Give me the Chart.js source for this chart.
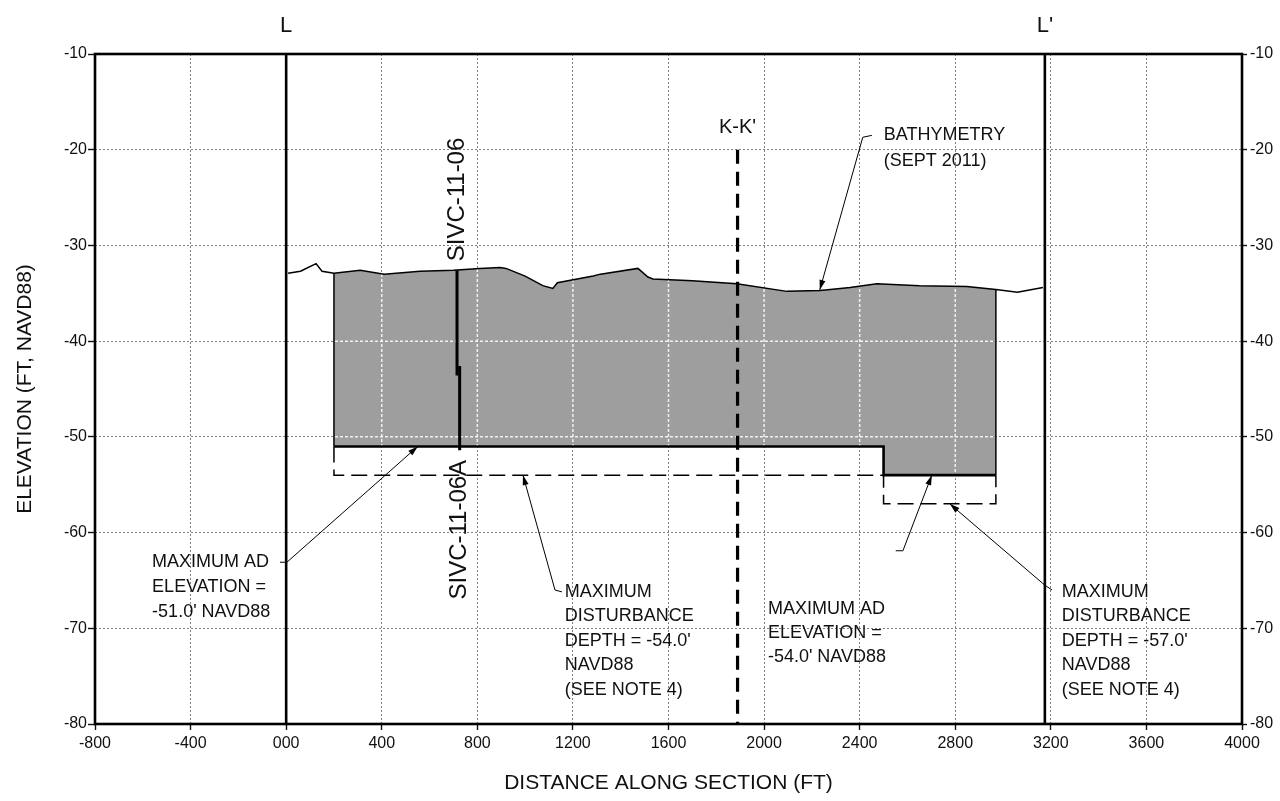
<!DOCTYPE html>
<html><head><meta charset="utf-8">
<script src="https://cdn.jsdelivr.net/npm/chart.js@4.4.1/dist/chart.umd.min.js"></script>
<style>html,body{margin:0;padding:0;background:#fff}canvas{display:block}</style>
</head><body>
<canvas id="c" width="1280" height="801"></canvas>
<script>
// ---------- data ----------
const xTickValues = [-800,-400,0,400,800,1200,1600,2000,2400,2800,3200,3600,4000];
const xTickLabels = ['-800','-400','000','400','800','1200','1600','2000','2400','2800','3200','3600','4000'];
const yTickValues = [-10,-20,-30,-40,-50,-60,-70,-80];
const yTickLabels = ['-10','-20','-30','-40','-50','-60','-70','-80'];

// bathymetry (Sept 2011) profile
const bathyX = [8,60,125,150,200,310,410,560,700,810,895,920,1000,1074,1116,1135,1285,1315,1472,1514,1535,1700,1886,2095,2235,2360,2472,2650,2848,2970,3060,3167];
const bathyY = [-32.9,-32.7,-31.9,-32.7,-32.9,-32.6,-33.0,-32.7,-32.6,-32.4,-32.3,-32.4,-33.2,-34.2,-34.5,-33.9,-33.2,-33.0,-32.4,-33.3,-33.5,-33.7,-34.0,-34.8,-34.7,-34.4,-34.0,-34.2,-34.3,-34.6,-34.9,-34.4];

// dredge prism limits
const shadeStartX = 200, shadeEndX = 2970;
const adX = [200, 2500, 2500, 2970];          // maximum AD elevation
const adY = [-51, -51, -54, -54];
const distX = [200, 200, 2500, 2500, 2970, 2970]; // maximum disturbance depth
const distY = [-51, -54, -54, -57, -57, -54];

// section markers
const sectionX = [0, 3175];
const sectionNames = ['L', "L'"];
const kSectionX = 1889, kSectionTop = -20, kSectionName = "K-K'";

// boring SIVC-11-06 / 06A
const boringUpperX = [715, 715], boringUpperY = [-32.6, -43.6];
const boringLowerX = [726, 726], boringLowerY = [-42.6, -51.4];
const boringNames = ['SIVC-11-06', 'SIVC-11-06A'];

// callout leaders [tip, elbow, end] in data units
const leaderBathy  = [[2233,-34.66],[2413,-18.7],[2451,-18.5]];
const leaderAD51   = [[551,-51.0],[3,-63.1],[-26,-63.1]];
const leaderDist54 = [[991,-54.0],[1125,-66.0],[1154,-66.2]];
const leaderAD54   = [[2702,-54.0],[2581,-61.9],[2551,-61.9]];
const leaderDist57 = [[2777,-57.0],[3175,-65.5],[3205,-66.0]];

const noteBathy  = ['BATHYMETRY','(SEPT 2011)'];
const noteAD51   = ['MAXIMUM AD','ELEVATION =',"-51.0' NAVD88"];
const noteDist54 = ['MAXIMUM','DISTURBANCE',"DEPTH = -54.0'",'NAVD88','(SEE NOTE 4)'];
const noteAD54   = ['MAXIMUM AD','ELEVATION =',"-54.0' NAVD88"];
const noteDist57 = ['MAXIMUM','DISTURBANCE',"DEPTH = -57.0'",'NAVD88','(SEE NOTE 4)'];

// ---------- build ----------
const FONT = '"Liberation Sans", Arial, Helvetica, sans-serif';
const pts = (xs, ys) => xs.map((x, i) => ({x, y: ys[i]}));
const bathyPts = pts(bathyX, bathyY);
const shadePts = bathyPts.filter(p => p.x >= shadeStartX && p.x <= shadeEndX);
const yAt = x => bathyY[bathyX.indexOf(x)];
const toPts = arr => arr.map(p => ({x: p[0], y: p[1]}));

const base = {pointRadius: 0, tension: 0, borderColor: '#000', fill: false, spanGaps: false};
const datasets = [
  Object.assign({}, base, {label: 'shade', data: shadePts, borderWidth: 0, fill: 1, backgroundColor: '#9e9e9e'}),
  Object.assign({}, base, {label: 'ad', data: pts(adX, adY), borderWidth: 2.6}),
  Object.assign({}, base, {label: 'edgeL', data: [{x: shadeStartX, y: yAt(shadeStartX)}, {x: shadeStartX, y: adY[0]}], borderWidth: 1.5}),
  Object.assign({}, base, {label: 'edgeR', data: [{x: shadeEndX, y: yAt(shadeEndX)}, {x: shadeEndX, y: adY[3]}], borderWidth: 1.5}),
  Object.assign({}, base, {label: 'dist', data: pts(distX, distY), borderWidth: 1.5, borderDash: [16, 7]}),
  Object.assign({}, base, {label: 'bathy', data: bathyPts, borderWidth: 1.5}),
  Object.assign({}, base, {label: 'L', data: [{x: sectionX[0], y: -10}, {x: sectionX[0], y: -80}], borderWidth: 2.6}),
  Object.assign({}, base, {label: "L'", data: [{x: sectionX[1], y: -10}, {x: sectionX[1], y: -80}], borderWidth: 2.6}),
  Object.assign({}, base, {label: 'K', data: [{x: kSectionX, y: kSectionTop}, {x: kSectionX, y: -80}], borderWidth: 3.2, borderDash: [14, 8]}),
  Object.assign({}, base, {label: 'bor1', data: pts(boringUpperX, boringUpperY), borderWidth: 3}),
  Object.assign({}, base, {label: 'bor2', data: pts(boringLowerX, boringLowerY), borderWidth: 3}),
];
[leaderBathy, leaderAD51, leaderDist54, leaderAD54, leaderDist57].forEach((l, i) => {
  datasets.push(Object.assign({}, base, {label: 'leader' + i, data: toPts(l), borderWidth: 1, leader: true}));
});

// text placements (data units for anchor, px for line gap)
const notes = [
  {lines: noteBathy,  x: 2501, y: -18.5, gap: 26, align: 'left'},
  {lines: noteAD51,   x: -561, y: -63.1, gap: 25, align: 'left'},
  {lines: noteDist54, x: 1166, y: -66.2, gap: 24.5, align: 'left'},
  {lines: noteAD54,   x: 2016, y: -68.0, gap: 24, align: 'left'},
  {lines: noteDist57, x: 3246, y: -66.2, gap: 24.5, align: 'left'},
];

const drawPlugin = {
  id: 'extras',
  beforeDatasetsDraw(chart) {
    // light grid lines showing through the shaded prism (as in the scan)
    const {ctx, chartArea: a, scales: {x, y}} = chart;
    const top = chart.getDatasetMeta(0).data, bot = chart.getDatasetMeta(1).data;
    ctx.save();
    ctx.beginPath();
    top.forEach((p, i) => i ? ctx.lineTo(p.x, p.y) : ctx.moveTo(p.x, p.y));
    for (let i = bot.length - 1; i >= 0; i--) ctx.lineTo(bot[i].x, bot[i].y);
    ctx.closePath();
    ctx.clip();
    ctx.strokeStyle = 'rgba(255,255,255,0.85)';
    ctx.lineWidth = 1.5;
    ctx.setLineDash([3, 2]);
    xTickValues.forEach(v => { const px = x.getPixelForValue(v); ctx.beginPath(); ctx.moveTo(px, a.top); ctx.lineTo(px, a.bottom); ctx.stroke(); });
    yTickValues.forEach(v => { const py = y.getPixelForValue(v); ctx.beginPath(); ctx.moveTo(a.left, py); ctx.lineTo(a.right, py); ctx.stroke(); });
    ctx.restore();
  },
  afterDatasetsDraw(chart) {
    const {ctx, chartArea: a} = chart;
    ctx.save();
    // frame
    ctx.strokeStyle = '#000'; ctx.lineWidth = 2.6;
    ctx.strokeRect(a.left, a.top, a.right - a.left, a.bottom - a.top);
    // arrowheads
    chart.data.datasets.forEach((ds, i) => {
      if (!ds.leader) return;
      const m = chart.getDatasetMeta(i).data;
      const p0 = m[0], p1 = m[1];
      const ang = Math.atan2(p0.y - p1.y, p0.x - p1.x);
      const L = 10, W = 3;
      ctx.fillStyle = '#000';
      ctx.beginPath();
      ctx.moveTo(p0.x, p0.y);
      ctx.lineTo(p0.x - L * Math.cos(ang) + W * Math.sin(ang), p0.y - L * Math.sin(ang) - W * Math.cos(ang));
      ctx.lineTo(p0.x - L * Math.cos(ang) - W * Math.sin(ang), p0.y - L * Math.sin(ang) + W * Math.cos(ang));
      ctx.closePath(); ctx.fill();
    });
    ctx.restore();
  },
  afterDraw(chart) {
    const {ctx, scales: {x, y}} = chart;
    ctx.save();
    ctx.fillStyle = '#111';
    ctx.textBaseline = 'middle';
    // callout notes
    ctx.font = '18px ' + FONT;
    notes.forEach(n => {
      ctx.textAlign = n.align;
      const px = x.getPixelForValue(n.x), py = y.getPixelForValue(n.y);
      n.lines.forEach((t, i) => ctx.fillText(t, px, py + i * n.gap));
    });
    // section labels
    ctx.textAlign = 'center';
    ctx.font = '22px ' + FONT;
    sectionX.forEach((sx, i) => ctx.fillText(sectionNames[i], x.getPixelForValue(sx), y.getPixelForValue(-7.1)));
    ctx.font = '20px ' + FONT;
    ctx.fillText(kSectionName, x.getPixelForValue(kSectionX), y.getPixelForValue(-17.7));
    // boring labels, rotated
    ctx.font = '24px ' + FONT;
    [[boringUpperX[0], -25.2, boringNames[0]], [boringLowerX[0] - 3, -59.7, boringNames[1]]].forEach(b => {
      ctx.save();
      ctx.translate(x.getPixelForValue(b[0]), y.getPixelForValue(b[1]));
      ctx.rotate(-Math.PI / 2);
      ctx.fillText(b[2], 0, 0);
      ctx.restore();
    });
    ctx.restore();
  }
};

const gridCommon = {color: 'rgba(0,0,0,0.5)', lineWidth: 1, tickLength: 6, tickColor: '#111', tickWidth: 1.4};

new Chart(document.getElementById('c'), {
  type: 'line',
  data: {datasets},
  options: {
    responsive: false, animation: false, devicePixelRatio: 1, events: [],
    layout: {padding: {top: 54, left: 0, right: 0, bottom: 0}},
    plugins: {legend: {display: false}, tooltip: {enabled: false}, filler: {drawTime: 'beforeDatasetsDraw'}},
    scales: {
      x: {
        type: 'linear', min: -800, max: 4000,
        afterBuildTicks: s => { s.ticks = xTickValues.map(v => ({value: v})); },
        afterFit: s => { s.height = 77; },
        ticks: {callback: (v) => xTickLabels[xTickValues.indexOf(v)], font: {family: FONT, size: 16}, color: '#111', padding: 4, maxRotation: 0, autoSkip: false},
        grid: gridCommon,
        border: {display: false, dash: [2, 2]},
        title: {display: true, text: 'DISTANCE ALONG SECTION (FT)', font: {family: FONT, size: 21}, color: '#111', padding: {top: 0, bottom: 5}}
      },
      y: {
        type: 'linear', position: 'left', min: -80, max: -10,
        afterBuildTicks: s => { s.ticks = yTickValues.map(v => ({value: v})); },
        afterFit: s => { s.width = 95; },
        ticks: {callback: (v) => yTickLabels[yTickValues.indexOf(v)], font: {family: FONT, size: 16}, color: '#111', padding: 1},
        grid: Object.assign({}, gridCommon, {tickLength: 7}),
        border: {display: false, dash: [2, 2]},
        title: {display: true, text: 'ELEVATION (FT, NAVD88)', font: {family: FONT, size: 21}, color: '#111', padding: {top: 13, bottom: 0}}
      },
      y2: {
        type: 'linear', position: 'right', min: -80, max: -10,
        afterBuildTicks: s => { s.ticks = yTickValues.map(v => ({value: v})); },
        afterFit: s => { s.width = 38; },
        ticks: {callback: (v) => yTickLabels[yTickValues.indexOf(v)], font: {family: FONT, size: 16}, color: '#111', padding: 3},
        grid: Object.assign({}, gridCommon, {drawOnChartArea: false, tickLength: 5}),
        border: {display: false}
      }
    }
  },
  plugins: [drawPlugin]
});
</script>
</body></html>
